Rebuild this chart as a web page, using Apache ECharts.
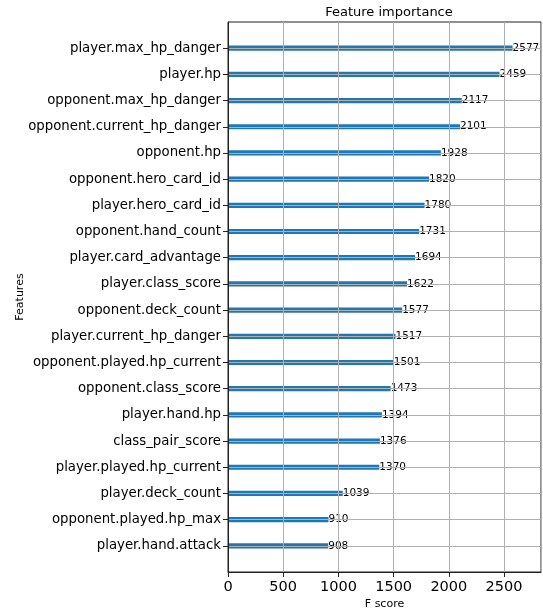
<!DOCTYPE html>
<html>
<head>
<meta charset="utf-8">
<script src="https://cdn.jsdelivr.net/npm/echarts@6/dist/echarts.min.js"></script>
<style>
  html, body { margin: 0; padding: 0; background: #fff; }
  #chart { width: 543px; height: 615px; }
</style>
</head>
<body>
<div id="chart"></div>
<script>
// 特征重要性（从上到下）
const features = [
  'player.max_hp_danger', 'player.hp', 'opponent.max_hp_danger', 'opponent.current_hp_danger',
  'opponent.hp', 'opponent.hero_card_id', 'player.hero_card_id', 'opponent.hand_count',
  'player.card_advantage', 'player.class_score', 'opponent.deck_count', 'player.current_hp_danger',
  'opponent.played.hp_current', 'opponent.class_score', 'player.hand.hp', 'class_pair_score',
  'player.played.hp_current', 'player.deck_count', 'opponent.played.hp_max', 'player.hand.attack'
]
const scores = [
  2577, 2459, 2117, 2101, 1928, 1820, 1780, 1731, 1694, 1622,
  1577, 1517, 1501, 1473, 1394, 1376, 1370, 1039, 910, 908
]
const xTicks = [0, 500, 1000, 1500, 2000, 2500]

const font = 'DejaVu Sans'
// 上下各留一个空位，和 matplotlib 的 ylim(-1, n) 一样
const yData = ['top_pad'].concat(features, ['bottom_pad'])
const barData = [null].concat(scores, [null])
const last = yData.length - 1
const xMax = Math.max.apply(null, scores) * 1.1

const chart = echarts.init(document.getElementById('chart'))
const option = {
  backgroundColor: '#fff',
  animation: false,
  textStyle: { fontFamily: font },
  title: {
    text: 'Feature importance',
    left: 384,
    textAlign: 'center',
    top: 1,
    textStyle: { fontFamily: font, fontSize: 13, fontWeight: 'normal', color: '#000' }
  },
  grid: {
    left: 228,
    right: 2,
    top: 22,
    bottom: 43,
    containLabel: false,
    outerBoundsMode: 'none',
    show: true,
    borderColor: '#222',
    borderWidth: 1,
    backgroundColor: 'transparent'
  },
  xAxis: {
    type: 'value',
    min: 0,
    max: xMax,
    interval: 500,
    z: 3,
    name: 'F score',
    nameLocation: 'middle',
    nameGap: 27,
    nameMoveOverlap: false,
    nameTextStyle: { fontFamily: font, fontSize: 11, color: '#000' },
    axisLine: { show: true, lineStyle: { color: '#222', width: 1 } },
    axisTick: { show: true, inside: false, length: 5, lineStyle: { color: '#222' } },
    axisLabel: {
      color: '#000',
      fontFamily: font,
      fontSize: 14.5,
      margin: 8,
      showMaxLabel: false,
      formatter: function (v) {
        return xTicks.indexOf(v) >= 0 ? String(v) : ''
      }
    },
    splitLine: { show: true, lineStyle: { color: '#b0b0b0', width: 1 } }
  },
  yAxis: {
    type: 'category',
    data: yData,
    inverse: true,
    boundaryGap: false,
    z: 3,
    name: 'Features',
    nameLocation: 'middle',
    nameRotate: 90,
    nameGap: 202,
    nameMoveOverlap: false,
    nameTextStyle: { fontFamily: font, fontSize: 11, color: '#000' },
    axisLine: { show: true, lineStyle: { color: '#222', width: 1 } },
    axisTick: {
      show: true,
      length: 5,
      lineStyle: { color: '#222' },
      interval: function (idx) { return idx > 0 && idx < last }
    },
    axisLabel: {
      color: '#000',
      fontFamily: font,
      fontSize: 13.3,
      margin: 7,
      interval: 0,
      formatter: function (v, idx) { return idx > 0 && idx < last ? v : '' }
    },
    splitLine: {
      show: true,
      lineStyle: { color: '#b0b0b0', width: 1 },
      interval: function (idx) { return idx > 0 && idx < last }
    }
  },
  series: [{
    type: 'bar',
    data: barData,
    barWidth: 5.2,
    itemStyle: { color: '#1f77b4' },
    label: {
      show: true,
      position: 'right',
      distance: 0,
      color: '#000',
      fontFamily: font,
      fontSize: 10.5
    }
  }]
}
chart.setOption(option)
</script>
</body>
</html>
